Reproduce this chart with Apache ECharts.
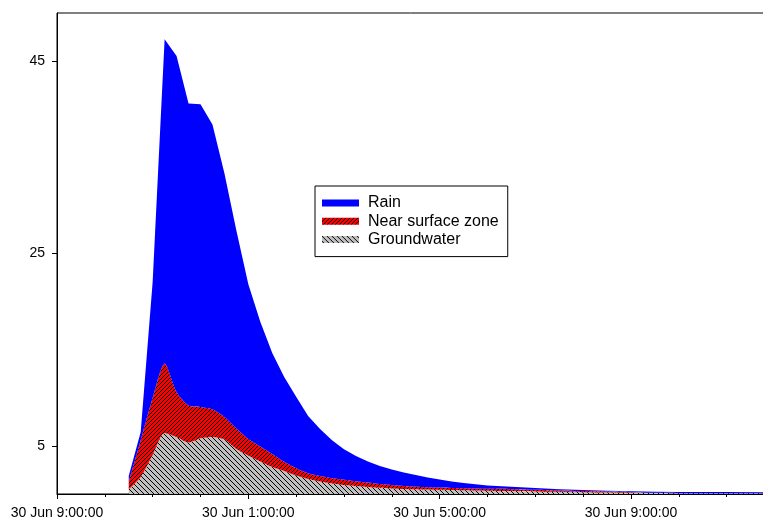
<!DOCTYPE html>
<html><head><meta charset="utf-8">
<script src="https://cdn.jsdelivr.net/npm/echarts@6/dist/echarts.min.js"></script>
<style>html,body{margin:0;padding:0;background:#fff}#c{width:763px;height:520px}</style>
</head><body><div id="c"></div>
<script>
// time since 30 Jun 9:00:00, in hours
const hours = [1.5,1.75,2,2.25,2.5,2.75,3,3.25,3.5,3.75,4,4.25,4.5,4.75,5,5.25,5.5,5.75,6,6.25,6.5,6.75,7,7.25,7.5,7.75,8,8.25,8.5,8.75,9,9.5,10,10.5,11,11.5,12,12.5,13,14,15,16];
const groundwater = [0.47,1.77,4.05,6.34,5.92,5.35,5.79,5.92,5.66,4.68,4.0,3.38,2.8,2.39,1.92,1.56,1.3,1.09,0.94,0.83,0.73,0.64,0.57,0.52,0.49,0.46,0.43,0.41,0.39,0.37,0.35,0.31,0.27,0.23,0.19,0.16,0.13,0.1,0.08,0.07,0.06,0.05];
const nearSurface = [0.81,3.83,5.92,7.22,4.68,3.85,3.26,2.88,2.34,2.12,1.71,1.56,1.36,0.95,0.75,0.6,0.56,0.55,0.55,0.5,0.46,0.4,0.37,0.31,0.27,0.25,0.24,0.22,0.21,0.2,0.19,0.19,0.17,0.13,0.11,0.09,0.05,0.02,0.01,0.01,0.01,0.01];
const rain = [0.59,0.84,12.09,33.71,34.94,31.4,31.47,29.6,25.35,20.6,16.09,12.96,10.49,8.81,7.43,5.94,4.89,3.96,3.15,2.62,2.19,1.86,1.61,1.4,1.21,1.0,0.83,0.67,0.54,0.45,0.34,0.25,0.18,0.14,0.12,0.1,0.1,0.12,0.13,0.12,0.12,0.12];
const xTickLabels = ['30 Jun 9:00:00','30 Jun 1:00:00','30 Jun 5:00:00','30 Jun 9:00:00'];
const yTickValues = [5,25,45];
const seriesNames = ['Groundwater','Near surface zone','Rain'];
const legendOrder = ['Rain','Near surface zone','Groundwater'];

const FONT = '"Liberation Sans", Arial, Helvetica, sans-serif';
const HOUR_MS = 3600000;

function hatch(bg, fg, size, dir) {
  const c = document.createElement('canvas');
  c.width = size; c.height = size;
  const ctx = c.getContext('2d');
  ctx.fillStyle = bg; ctx.fillRect(0, 0, size, size);
  ctx.fillStyle = fg;
  for (let i = 0; i < size; i++) {
    const x = dir === '/' ? size - 1 - i : i;
    ctx.fillRect(x, i, 1, 1);
  }
  return c;
}
const redPattern = { image: hatch('#ff0000', '#000000', 4, '/'), repeat: 'repeat' };
const grayPattern = { image: hatch('#c0c0c0', '#000000', 5, '\\'), repeat: 'repeat' };
const fills = { 'Groundwater': grayPattern, 'Near surface zone': redPattern, 'Rain': '#0000ff' };
const values = { 'Groundwater': groundwater, 'Near surface zone': nearSurface, 'Rain': rain };

const chart = echarts.init(document.getElementById('c'), null, { renderer: 'canvas' });
chart.setOption({
  animation: false,
  useUTC: true,
  textStyle: { fontFamily: FONT },
  grid: { left: 57, top: 13, width: 765.3, bottom: 26, show: true, borderColor: '#000', borderWidth: 1, backgroundColor: 'transparent', containLabel: false, outerBoundsMode: 'none' },
  xAxis: [{
    // display axis: hours since start
    type: 'value', min: 0, max: 16, interval: 4,
    axisLine: { show: true, onZero: false, lineStyle: { color: '#000', width: 1 } },
    axisTick: { show: true, length: 5, lineStyle: { color: '#000' } },
    minorTick: { show: true, splitNumber: 4, length: 3, lineStyle: { color: '#000' } },
    splitLine: { show: false },
    axisLabel: {
      fontSize: 14, color: '#000', fontFamily: FONT, margin: 12,
      formatter: v => (v % 4 === 0 && v / 4 < xTickLabels.length) ? xTickLabels[v / 4] : ''
    }
  }, {
    // data axis (same extent, hidden)
    type: 'time', min: 0, max: 16 * HOUR_MS, show: false, position: 'bottom'
  }],
  yAxis: {
    type: 'value', min: 0, max: 50,
    axisLine: { show: true, lineStyle: { color: '#000', width: 1 } },
    axisTick: { show: true, length: 5, customValues: yTickValues, lineStyle: { color: '#000' } },
    axisLabel: { fontSize: 14, color: '#000', fontFamily: FONT, margin: 12, customValues: yTickValues },
    splitLine: { show: false }
  },
  legend: {
    orient: 'vertical', left: 315, top: 186, icon: 'rect', itemWidth: 37, itemHeight: 7,
    itemGap: 0.3, padding: [8, 9, 8, 7],
    borderColor: '#000', borderWidth: 1, backgroundColor: '#fff',
    textStyle: { fontSize: 16, color: '#000', fontFamily: FONT, lineHeight: 18, padding: [0, 0, 0, 4] },
    selectedMode: false,
    data: legendOrder.map(n => ({ name: n, itemStyle: { color: fills[n], borderWidth: 0 } }))
  },
  series: seriesNames.map(n => ({
    name: n, type: 'line', stack: 'total', symbol: 'none', showSymbol: false,
    xAxisIndex: 1,
    smooth: n === 'Rain' ? false : 0.25,
    data: hours.map((h, i) => [h * HOUR_MS, values[n][i]]),
    lineStyle: { width: 0 },
    itemStyle: { color: fills[n] },
    areaStyle: { color: fills[n], opacity: 1 },
    emphasis: { disabled: true }
  }))
});
</script></body></html>
